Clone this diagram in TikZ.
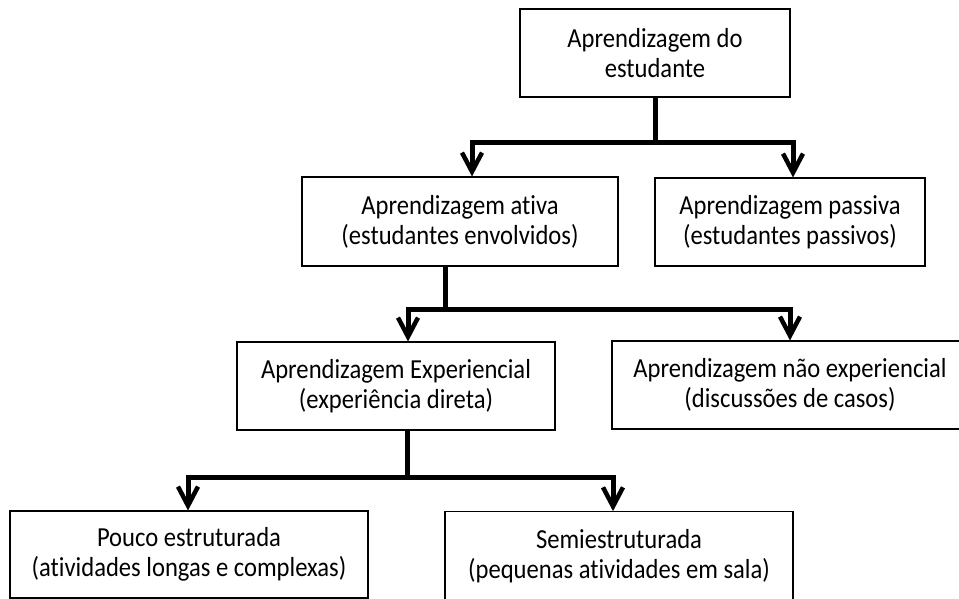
\documentclass[tikz,border=0pt]{standalone}
\usepackage{fontspec}
\setmainfont{Carlito}[Ligatures={NoCommon}, FakeStretch=0.895]
\usetikzlibrary{arrows.meta}
\tikzset{
  box/.style={draw=black, line width=1.1pt, rectangle, inner sep=0pt, align=center,
    font=\fontsize{27.5}{30}\selectfont},
  trunk/.style={line width=5pt, line join=miter, line cap=butt},
  arr/.style={-{Straight Barb[length=19pt,width=20pt,line width=4.5pt]}}
}
\begin{document}
\begin{tikzpicture}[x=1pt,y=-1pt]
\useasboundingbox[fill=white] (0,0) rectangle (959,599);
\node[box, minimum width=270pt, minimum height=88pt] (top) at (655,53) {Aprendizagem do\\estudante};
\node[box, minimum width=316pt, minimum height=89pt] (ativa) at (460,221.5) {Aprendizagem ativa\\(estudantes envolvidos)};
\node[box, minimum width=270pt, minimum height=88pt] (passiva) at (790,222) {Aprendizagem passiva\\(estudantes passivos)};
\node[box, minimum width=318pt, minimum height=88pt] (exper) at (396,386) {Aprendizagem Experiencial\\(experiência direta)};
\node[box, minimum width=356pt, minimum height=88pt] (naoexp) at (790,385) {Aprendizagem não experiencial\\(discussões de casos)};
\node[box, minimum width=358pt, minimum height=87pt] (pouco) at (189,554.5) {Pouco estruturada\\(atividades longas e complexas)};
\node[box, minimum width=348pt, minimum height=88pt] (semi) at (619,555.7) {Semiestruturada\\(pequenas atividades em sala)};

\draw[trunk] (top.south) -- ++(0,45) coordinate (j1);
\draw[trunk,arr] (j1) -| ([xshift=12pt]ativa.north);
\draw[trunk,arr] (j1) -| ([xshift=3pt]passiva.north);

\draw[trunk] ([xshift=-15pt]ativa.south) -- ++(0,43) coordinate (j2);
\draw[trunk,arr] (j2) -| ([xshift=12pt]exper.north);
\draw[trunk,arr] (j2) -| ([xshift=0pt]naoexp.north);

\draw[trunk] ([xshift=11pt]exper.south) -- ++(0,46.5) coordinate (j3);
\draw[trunk,arr] (j3) -| ([xshift=-1pt]pouco.north);
\draw[trunk,arr] (j3) -| ([xshift=-6pt]semi.north);
\end{tikzpicture}
\end{document}
